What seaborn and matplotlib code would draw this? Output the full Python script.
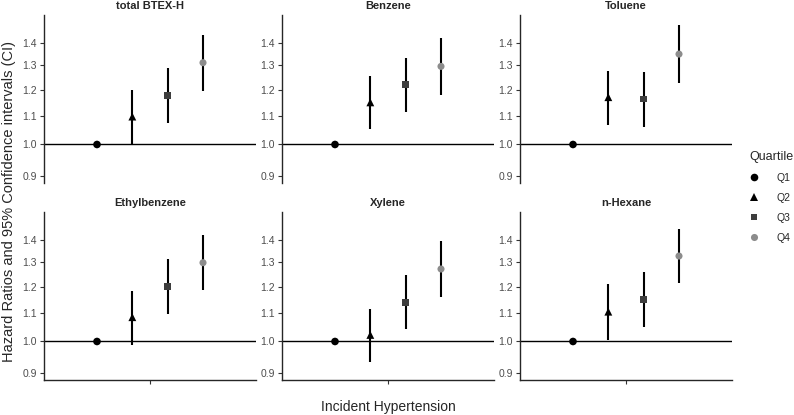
import numpy as np
import pandas as pd
import seaborn as sns
import matplotlib.pyplot as plt
from matplotlib.lines import Line2D

# hazard ratios by exposure quartile (Q1 = reference)
compounds = ['total BTEX-H', 'Benzene', 'Toluene', 'Ethylbenzene', 'Xylene', 'n-Hexane']
quartiles = ['Q1', 'Q2', 'Q3', 'Q4']
hr = [[1.0, 1.097, 1.176, 1.312],
      [1.0, 1.150, 1.220, 1.296],
      [1.0, 1.170, 1.163, 1.350],
      [1.0, 1.084, 1.200, 1.299],
      [1.0, 1.022, 1.139, 1.272],
      [1.0, 1.104, 1.150, 1.328]]
ci_low = [[1.0, 1.000, 1.073, 1.194],
          [1.0, 1.053, 1.113, 1.180],
          [1.0, 1.068, 1.059, 1.227],
          [1.0, 0.987, 1.095, 1.186],
          [1.0, 0.933, 1.042, 1.161],
          [1.0, 1.006, 1.051, 1.213]]
ci_high = [[1.0, 1.198, 1.288, 1.440],
           [1.0, 1.257, 1.332, 1.424],
           [1.0, 1.275, 1.272, 1.485],
           [1.0, 1.184, 1.313, 1.424],
           [1.0, 1.114, 1.247, 1.396],
           [1.0, 1.209, 1.261, 1.451]]

colors = {'Q1': 'black', 'Q2': 'black', 'Q3': '#3d3d3d', 'Q4': '#8c8c8c'}
markers = {'Q1': 'o', 'Q2': '^', 'Q3': 's', 'Q4': 'o'}
sizes = {'Q1': 30, 'Q2': 32, 'Q3': 22, 'Q4': 26}

rows = []
for c, name in enumerate(compounds):
    for q, lab in enumerate(quartiles):
        rows.append({'compound': name, 'Quartile': lab,
                     'x': 1 + (q - 1.5) * 0.2,
                     'hr': hr[c][q], 'lo': ci_low[c][q], 'hi': ci_high[c][q]})
df = pd.DataFrame(rows)

sns.set_theme(style='ticks')
plt.rcParams['font.family'] = ['Liberation Sans', 'DejaVu Sans']

fig = plt.figure(figsize=(7.94, 4.15), dpi=100)
W, H = 794, 415
lefts = [44, 282, 520]
tops = [15, 212]
pw, ph = 212, 168

for i, name in enumerate(compounds):
    r, col = divmod(i, 3)
    ax = fig.add_axes([lefts[col] / W, 1 - (tops[r] + ph) / H, pw / W, ph / H])
    sub = df[df.compound == name]
    ax.axhline(1.0, color='black', lw=1.0, zorder=1)
    ax.vlines(sub.x, sub.lo, sub.hi, color='black', lw=1.5, zorder=2)
    sns.scatterplot(data=sub, x='x', y='hr', hue='Quartile', style='Quartile',
                    size='Quartile', sizes=sizes, palette=colors, markers=markers,
                    linewidth=0, legend=False, ax=ax, zorder=3)
    ax.set_yscale('log')
    ax.set_ylim(0.88, 1.537)
    ax.set_xlim(0.4, 1.6)
    yt = [0.9, 1.0, 1.1, 1.2, 1.3, 1.4]
    ax.set_yticks(yt)
    ax.set_yticklabels([f'{v:.1f}' for v in yt])
    ax.yaxis.set_minor_locator(plt.NullLocator())
    ax.set_xlabel('')
    ax.set_ylabel('')
    ax.set_title(name, fontsize=8, fontweight='bold', pad=4)
    ax.tick_params(axis='y', labelsize=7.5, labelcolor='#4d4d4d', color='#333333',
                   length=3, width=0.8, pad=2)
    for s in ['top', 'right']:
        ax.spines[s].set_visible(False)
    ax.spines['left'].set_linewidth(1.0)
    if r == 0:
        ax.spines['bottom'].set_visible(False)
        ax.set_xticks([])
    else:
        ax.spines['bottom'].set_linewidth(1.0)
        ax.set_xticks([1.0])
        ax.set_xticklabels([''])
        ax.tick_params(axis='x', color='#333333', length=3, width=0.8)

fig.text(388 / W, 1 - 407 / H, 'Incident Hypertension', ha='center', va='center', fontsize=10)
fig.text(9 / W, 1 - 202 / H, 'Hazard Ratios and 95% Confidence intervals (CI)',
         ha='center', va='center', rotation=90, fontsize=10.5)

handles = [Line2D([], [], ls='none', marker=markers[q], color=colors[q],
                  markersize=np.sqrt(sizes[q]), markeredgewidth=0) for q in quartiles]
fig.legend(handles, quartiles, title='Quartile', loc='upper left',
           bbox_to_anchor=(745 / W, 1 - 147 / H), frameon=False, fontsize=7.5,
           title_fontsize=9, handletextpad=1.6, labelspacing=0.95, handlelength=1.0,
           alignment='left', borderaxespad=0)

fig.savefig('out.png', dpi=100)
